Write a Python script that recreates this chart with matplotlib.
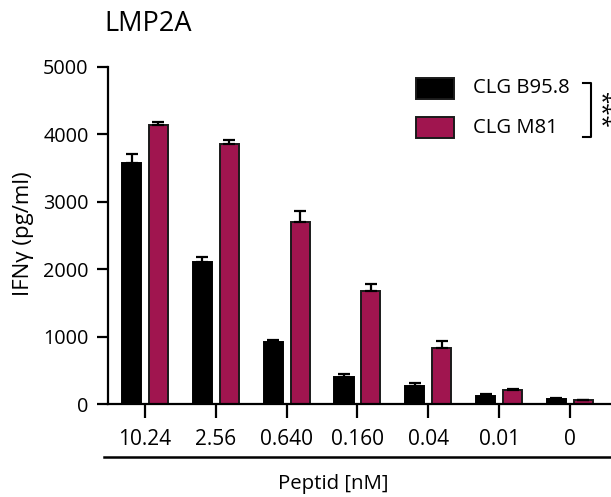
import matplotlib
matplotlib.use("Agg")
import matplotlib.pyplot as plt
from matplotlib.lines import Line2D
from matplotlib.patches import Rectangle
import numpy as np

plt.rcParams['font.family'] = ['Open Sans', 'DejaVu Sans']

categories = ["10.24", "2.56", "0.640", "0.160", "0.04", "0.01", "0"]
b958_mean = [3575, 2100, 925, 407, 270, 126, 81]
b958_err = [135, 85, 25, 40, 38, 15, 11]
m81_mean = [4135, 3860, 2700, 1681, 837, 215, 56]
m81_err = [45, 50, 170, 100, 99, 10, 9]
series_names = ["CLG B95.8", "CLG M81"]
yticks = [0, 1000, 2000, 3000, 4000, 5000]

W, H = 611, 497
fig = plt.figure(figsize=(W / 100, H / 100), dpi=100)
ax = fig.add_axes([108 / W, 1 - 404 / H, (W - 108) / W, (404 - 67) / H])

MAG = '#A0154F'
x = np.arange(len(categories))
off = 0.19
bw = 0.27
err_kw = dict(elinewidth=1.6, capthick=1.6, ecolor='black')
ax.bar(x - off, b958_mean, bw, color='black', edgecolor='black', linewidth=1.4,
       yerr=[np.zeros(len(x)), b958_err], capsize=4.5, error_kw=err_kw, zorder=2)
ax.bar(x + off, m81_mean, bw, color=MAG, edgecolor='#1a1a1a', linewidth=1.4,
       yerr=[np.zeros(len(x)), m81_err], capsize=4.5, error_kw=err_kw, zorder=2)

ax.set_xlim(-0.523, 6.58)
ax.set_ylim(0, 5000)
ax.set_yticks(yticks)
ax.set_yticklabels([str(v) for v in yticks])
ax.set_xticks(x)
ax.set_xticklabels(categories)
for s in ['top', 'right']:
    ax.spines[s].set_visible(False)
for s in ['left', 'bottom']:
    ax.spines[s].set_linewidth(1.6)
ax.tick_params(axis='y', length=8, width=1.6, labelsize=14.3, pad=6)
ax.tick_params(axis='x', length=10, width=1.6, labelsize=15, pad=8)

# y label
fig.text(24 / W, 1 - 234 / H, "IFNγ (pg/ml)", rotation=90, ha='center', va='center', fontsize=16)

# title
fig.text(104 / W, 1 - 24 / H, "LMP2A", ha='left', va='center', fontsize=19.5)

# second x line and label
fig.add_artist(Line2D([104 / W, 1.0], [1 - 457 / H, 1 - 457 / H], color='black', lw=1.8))
fig.text(333 / W, 1 - 484 / H, "Peptid [nM]", ha='center', va='center', fontsize=14.7)

# legend
colors = ['black', MAG]
ys = [88, 127.5]
for name, c, yc in zip(series_names, colors, ys):
    fig.add_artist(Rectangle((416 / W, 1 - (yc + 10.5) / H), 38 / W, 21 / H,
                             facecolor=c, edgecolor='#1a1a1a', lw=1.4, transform=fig.transFigure))
    fig.text(473 / W, 1 - yc / H, name, ha='left', va='center', fontsize=14.6)

# bracket
fig.add_artist(Line2D([583 / W, 591 / W, 591 / W, 583 / W],
                      [1 - 83 / H, 1 - 83 / H, 1 - 137 / H, 1 - 137 / H], color='black', lw=1.5))
fig.text(600 / W, 1 - 109 / H, "***", rotation=270, ha='center', va='center', fontsize=16)

fig.savefig("out.png", dpi=100)
